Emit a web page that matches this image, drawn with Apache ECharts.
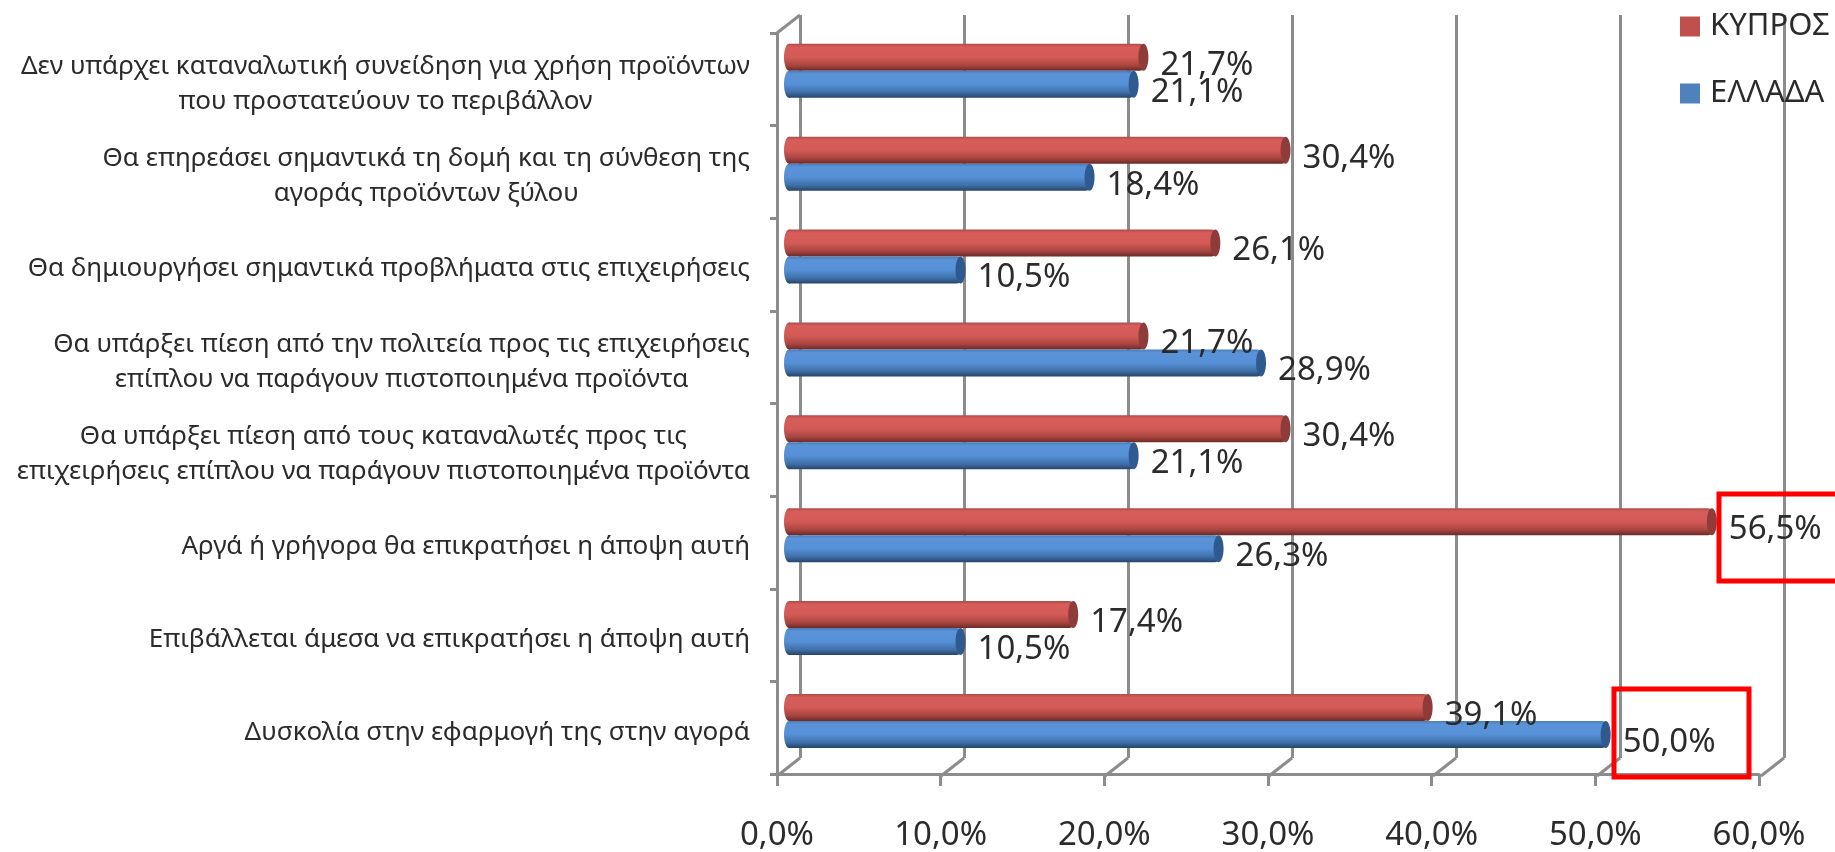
<!DOCTYPE html>
<html>
<head>
<meta charset="utf-8">
<title>ΚΥΠΡΟΣ - ΕΛΛΑΔΑ</title>
<script src="https://cdn.jsdelivr.net/npm/echarts@6/dist/echarts.min.js"></script>
<style>
  html, body { margin: 0; padding: 0; background: #fff; }
  #chart { width: 1835px; height: 852px; }
</style>
</head>
<body>
<div id="chart"></div>
<script>
const categories = [
  "Δεν υπάρχει καταναλωτική συνείδηση για χρήση προϊόντων\nπου προστατεύουν το περιβάλλον",
  "Θα επηρεάσει σημαντικά τη δομή και τη σύνθεση της\nαγοράς προϊόντων ξύλου",
  "Θα δημιουργήσει σημαντικά προβλήματα στις επιχειρήσεις",
  "Θα υπάρξει πίεση από την πολιτεία προς τις επιχειρήσεις\nεπίπλου να παράγουν πιστοποιημένα προϊόντα",
  "Θα υπάρξει πίεση από τους καταναλωτές προς τις\nεπιχειρήσεις επίπλου να παράγουν πιστοποιημένα προϊόντα",
  "Αργά ή γρήγορα θα επικρατήσει η άποψη αυτή",
  "Επιβάλλεται άμεσα να επικρατήσει η άποψη αυτή",
  "Δυσκολία στην εφαρμογή της στην αγορά"
];
const cyprus = [21.7, 30.4, 26.1, 21.7, 30.4, 56.5, 17.4, 39.1];
const greece = [21.1, 18.4, 10.5, 28.9, 21.1, 26.3, 10.5, 50.0];
const xTicks = [0, 10, 20, 30, 40, 50, 60];

const FONT = '"Noto Sans", "Open Sans", sans-serif';
const GRID_COLOR = "#8c8c8c";
const TEXT_COLOR = "#2b2b2b";
const BAR_H = 27;

const percent = (v) => v.toFixed(1).replace(".", ",") + "%";

function cylinder(stops) {
  return new echarts.graphic.LinearGradient(0, 0, 0, 1, stops.map((c, i) => ({
    offset: [0, 0.12, 0.5, 0.8, 1][i],
    color: c
  })));
}
const redFill = cylinder(["#b04c49", "#d65d5a", "#d45a57", "#a8453f", "#6b2a28"]);
const blueFill = cylinder(["#4a7cb8", "#5a93d8", "#5690d6", "#3f6fa8", "#264468"]);

function barSeries(name, data, fill) {
  return {
    name,
    type: "bar",
    xAxisIndex: 1,
    yAxisIndex: 1,
    data,
    barWidth: BAR_H,
    barGap: 0,
    z: 3,
    itemStyle: { color: fill, borderRadius: [0, 4, 4, 0] },
    label: {
      show: true,
      position: "right",
      distance: 17,
      offset: [0, 8],
      formatter: (p) => percent(p.value),
      fontFamily: FONT,
      fontSize: 33,
      color: TEXT_COLOR
    }
  };
}

// round ends of the cylinders, side = -1 upper bar (red), 1 lower bar (blue)
function capSeries(data, side, fill, capColor) {
  return {
    type: "custom",
    xAxisIndex: 1,
    yAxisIndex: 1,
    z: 4,
    silent: true,
    data: data.map((v, i) => [v, i]),
    renderItem(params, api) {
      const end = api.coord([api.value(0), api.value(1)]);
      const start = api.coord([0, api.value(1)]);
      const cy = end[1] + side * BAR_H / 2;
      return {
        type: "group",
        children: [
          { type: "ellipse", shape: { cx: start[0], cy, rx: 5, ry: BAR_H / 2 }, style: { fill } },
          { type: "ellipse", shape: { cx: end[0], cy, rx: 5, ry: BAR_H / 2 }, style: { fill: capColor } }
        ]
      };
    }
  };
}

const chart = echarts.init(document.getElementById("chart"));
chart.setOption({
  animation: false,
  backgroundColor: "#fff",
  grid: [
    { left: 777, top: 33, width: 982, height: 743 },   // front edge
    { left: 789, top: 24.4, width: 980, height: 743 }, // bars
    { left: 800, top: 15, width: 984, height: 743 }    // back wall
  ],
  xAxis: [
    {
      gridIndex: 0, type: "value", min: 0, max: 60, interval: 10,
      axisLine: { show: true, onZero: false, lineStyle: { color: GRID_COLOR, width: 3 } },
      axisTick: { show: true, length: 12, lineStyle: { color: GRID_COLOR, width: 3 } },
      splitLine: { show: false },
      axisLabel: {
        margin: 45, fontFamily: FONT, fontSize: 33, color: TEXT_COLOR,
        formatter: (v) => percent(v)
      }
    },
    { gridIndex: 1, type: "value", min: 0, max: 60, show: false },
    {
      gridIndex: 2, type: "value", min: 0, max: 60, interval: 10,
      axisLine: { show: false }, axisTick: { show: false }, axisLabel: { show: false },
      splitLine: { show: true, lineStyle: { color: GRID_COLOR, width: 3 } }
    }
  ],
  yAxis: [
    {
      gridIndex: 0, type: "category", inverse: true, data: categories,
      axisLine: { show: true, onZero: false, lineStyle: { color: GRID_COLOR, width: 3 } },
      axisTick: { show: true, length: 7, alignWithLabel: false, lineStyle: { color: GRID_COLOR, width: 3 } },
      axisLabel: {
        interval: 0, margin: 27, align: "right", padding: [9, 0, 0, 0],
        fontFamily: FONT, fontSize: 26, color: TEXT_COLOR,
        formatter: (v) => v.split("\n").map((l) => "{c|" + l + "}").join("\n"),
        rich: { c: { align: "center", lineHeight: 35, fontFamily: FONT, fontSize: 26, color: TEXT_COLOR } }
      }
    },
    { gridIndex: 1, type: "category", inverse: true, data: categories, show: false },
    { gridIndex: 2, type: "value", min: 0, max: 1, show: false }
  ],
  legend: {
    left: 1680, top: 11, padding: 0, orient: "vertical", icon: "rect",
    itemWidth: 20, itemHeight: 20, itemGap: 36,
    data: [
      { name: "ΚΥΠΡΟΣ", itemStyle: { color: "#c0504d" } },
      { name: "ΕΛΛΑΔΑ", itemStyle: { color: "#4f81bd" } }
    ],
    textStyle: { fontFamily: FONT, fontSize: 31, color: TEXT_COLOR, padding: [0, 0, 0, 5] }
  },
  series: [
    {
      // diagonal floor edges, and the top corner, between front edge and back wall
      type: "custom",
      xAxisIndex: 2,
      yAxisIndex: 2,
      z: 1,
      silent: true,
      data: xTicks.map((t) => [t, 0]).concat([[0, 1]]),
      renderItem(params, api) {
        const p = api.coord([api.value(0), api.value(1)]);
        return {
          type: "line",
          shape: { x1: p[0], y1: p[1], x2: p[0] - 23, y2: p[1] + 18 },
          style: { stroke: GRID_COLOR, lineWidth: 3 }
        };
      }
    },
    barSeries("ΚΥΠΡΟΣ", cyprus, redFill),
    barSeries("ΕΛΛΑΔΑ", greece, blueFill),
    capSeries(cyprus, -1, redFill, "#8f3b39"),
    capSeries(greece, 1, blueFill, "#2f5a90")
  ],
  graphic: [
    { type: "rect", z: 10, shape: { x: 1719, y: 494, width: 140, height: 87 }, style: { fill: null, stroke: "#ff0000", lineWidth: 5 } },
    { type: "rect", z: 10, shape: { x: 1614, y: 689, width: 135, height: 88 }, style: { fill: null, stroke: "#ff0000", lineWidth: 5 } }
  ]
});
</script>
</body>
</html>
